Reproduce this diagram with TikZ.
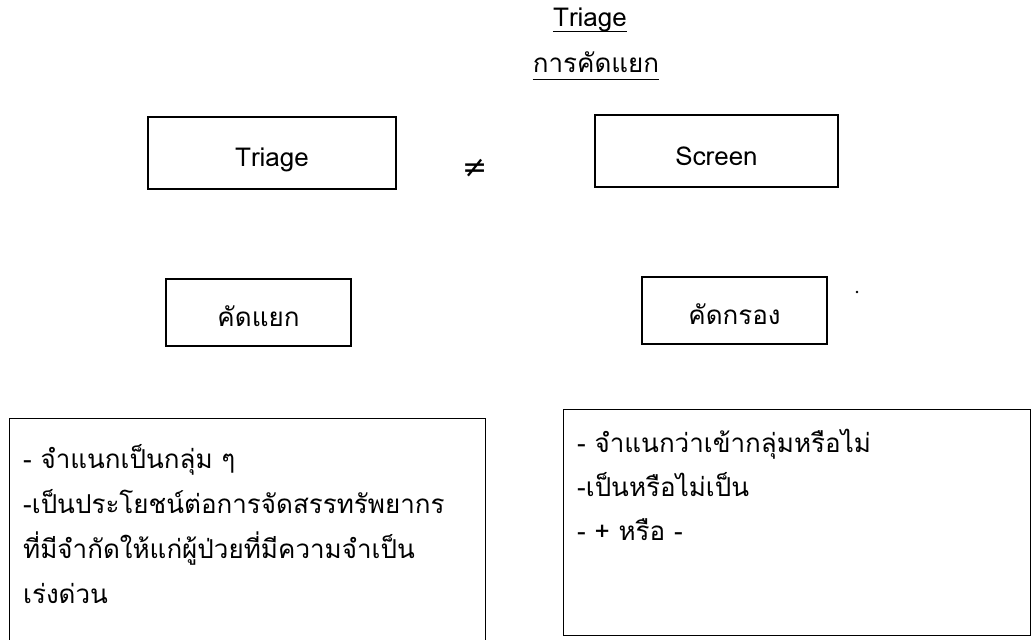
\documentclass[tikz,border=0pt]{standalone}
\usepackage{fontspec}
\setmainfont[Script=Thai]{Loma}
\newfontfamily\symfont{DejaVu Sans}
\begin{document}
\begin{tikzpicture}[x=1pt,y=-1pt,
  box/.style={draw=black,line width=1.3pt,inner sep=0pt,align=center,text height=34pt,text depth=6pt,font=\fontsize{26}{30}\selectfont},
  bigbox/.style={draw=black,line width=1.3pt,inner sep=0pt},
  body/.style={anchor=base west,inner sep=0pt,align=left},
  title/.style={inner sep=0pt,font=\fontsize{26}{30}\selectfont}]
\useasboundingbox (0,0) rectangle (1032,639);
% titles
\node[title,anchor=base] (t1) at (590,27) {Triage};
\node[title,anchor=base] (t2) at (596,73) {การคัดแยก};
\draw[line width=1pt] ([yshift=-5pt]t1.base west) -- ([yshift=-5pt]t1.base east);
\draw[line width=1pt] ([yshift=-7pt]t2.base west) -- ([yshift=-7pt]t2.base east);
% top boxes
\node[box,minimum width=248pt,minimum height=72pt] (triage) at (272,153) {Triage};
\node[box,minimum width=243pt,minimum height=72pt] (screen) at (716.5,151) {Screen};
\node[inner sep=0pt,font=\symfont\fontsize{30}{34}\selectfont] (neq) at (475,168) {≠};
% middle boxes
\node[box,minimum width=185pt,minimum height=67pt] (kadyaek) at (258.5,312.5) {คัดแยก};
\node[box,minimum width=185pt,minimum height=67pt] (kadkrong) at (734.5,310.5) {คัดกรอง};
\fill (857,292) circle (1.3pt);
% big boxes
\node[bigbox,minimum width=476pt,minimum height=240pt,anchor=north west] (leftbox) at (9,418) {};
\node[bigbox,minimum width=467pt,minimum height=226pt,anchor=north west] (rightbox) at (563,409) {};
\node[body,font=\fontsize{26}{45}\selectfont] (lefttext) at (23,603) {- จำแนกเป็นกลุ่ม ๆ\\-เป็นประโยชน์ต่อการจัดสรรทรัพยากร\\ที่มีจำกัดให้แก่ผู้ป่วยที่มีความจำเป็น\\เร่งด่วน};
\node[body,font=\fontsize{26}{44}\selectfont] (righttext) at (577,540) {- จำแนกว่าเข้ากลุ่มหรือไม่\\-เป็นหรือไม่เป็น\\- + หรือ -};
\end{tikzpicture}
\end{document}
